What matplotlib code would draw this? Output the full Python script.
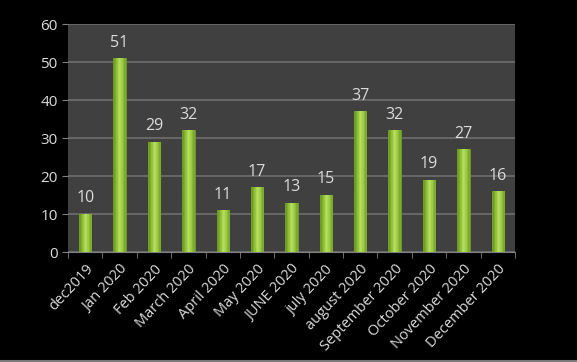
import numpy as np
import matplotlib
matplotlib.use("Agg")
import matplotlib.pyplot as plt

# data
months = ["dec2019", "Jan 2020", "Feb 2020", "March 2020", "April 2020", "May 2020",
          "JUNE 2020", "july 2020", "august 2020", "September 2020", "October 2020",
          "November 2020", "December 2020"]
counts = [10, 51, 29, 32, 11, 17, 13, 15, 37, 32, 19, 27, 16]

plt.rcParams['font.family'] = ['Open Sans', 'DejaVu Sans']
txt = '#dcdcdc'

fig = plt.figure(figsize=(5.77, 3.62), dpi=100, facecolor='black')
ax = fig.add_axes([68/577, 1 - 252/362, (515-68)/577, (252-24)/362])
ax.set_facecolor('#404040')

x = np.arange(len(months))
bars = ax.bar(x, counts, width=0.36, color='#8fbf3a', edgecolor='#6e9a28', linewidth=0.6, zorder=3)

# horizontal gradient on each bar to get the shiny look
grad = np.array([[0.0, 0.5, 1.0, 0.7, 0.2]])
cmap = matplotlib.colors.LinearSegmentedColormap.from_list('g', ['#6f9e22', '#b5e05a'])
for b in bars:
    x0, w, h = b.get_x(), b.get_width(), b.get_height()
    im = ax.imshow(grad, cmap=cmap, aspect='auto', extent=(x0, x0 + w, 0, h), zorder=4)
    im.set_clip_path(b)

for xi, v in zip(x, counts):
    ax.text(xi, v + 2, str(v), ha='center', va='bottom', color=txt, fontsize=11.5, zorder=5)

ax.set_xlim(-0.5, len(months) - 0.5)
ax.set_ylim(0, 60)
ax.set_yticks(range(0, 61, 10))
ax.grid(axis='y', color='#6e6e6e', linewidth=1.2, zorder=0)
ax.set_axisbelow(True)

ax.set_xticks(x)
ax.set_xticklabels(months, rotation=47, ha='right', rotation_mode='anchor', color=txt, fontsize=10.5)
ax.tick_params(axis='x', length=0, pad=7)
ax.set_xticks(np.arange(-0.5, len(months), 1), minor=True)
ax.tick_params(axis='x', which='minor', length=4, color='#808080')
ax.tick_params(axis='y', colors=txt, labelsize=11, length=4, color='#808080')
for s in ['top', 'right', 'left']:
    ax.spines[s].set_visible(False)
ax.spines['bottom'].set_color('#808080')

# thin border line at bottom of the picture
fig.add_artist(plt.Line2D([0, 1], [1/362, 1/362], color='#7a7a7a', linewidth=1.5))

plt.savefig('out.png', dpi=100, facecolor='black')
plt.close()
